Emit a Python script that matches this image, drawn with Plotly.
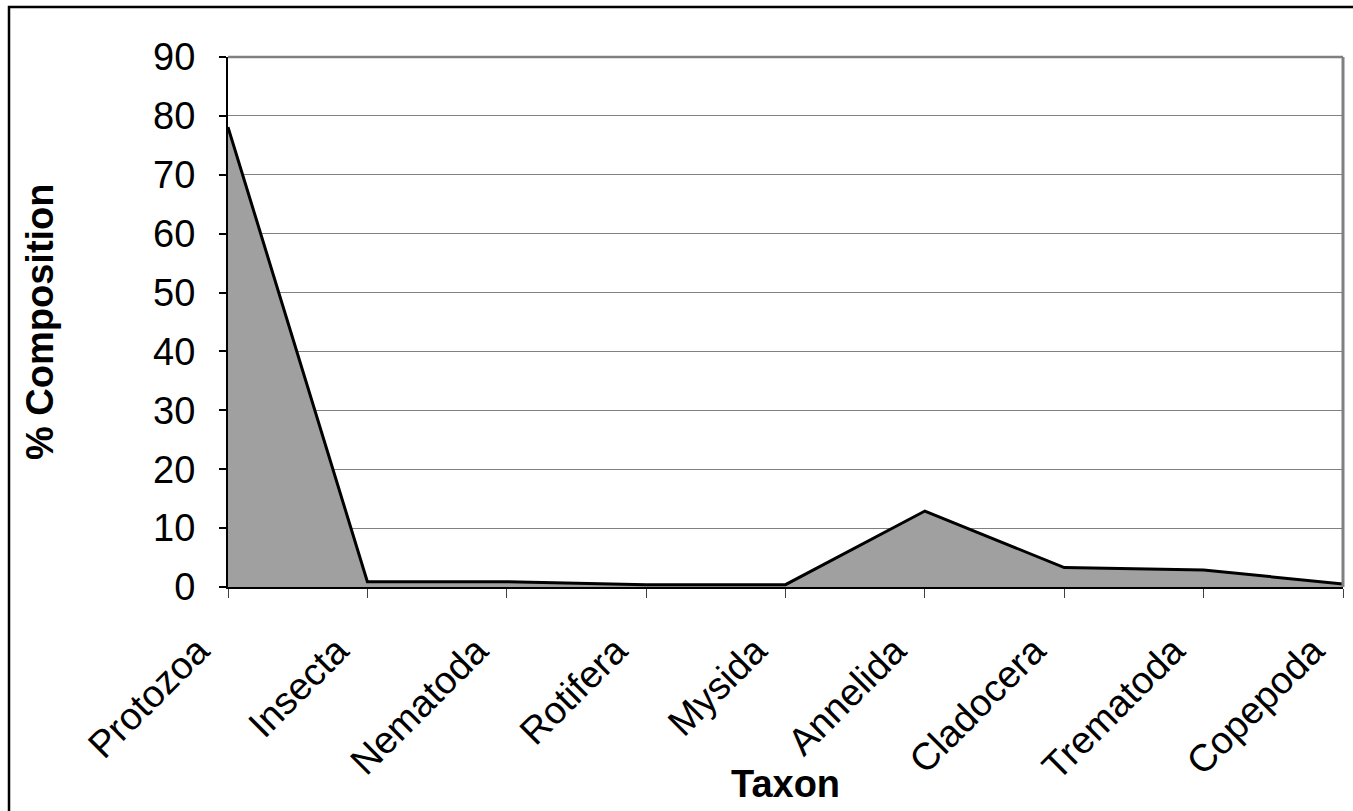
import plotly.graph_objects as go

categories = ["Protozoa", "Insecta", "Nematoda", "Rotifera", "Mysida",
              "Annelida", "Cladocera", "Trematoda", "Copepoda"]
composition = [78.1, 0.9, 0.9, 0.4, 0.4, 12.9, 3.3, 2.9, 0.5]
y_ticks = [0, 10, 20, 30, 40, 50, 60, 70, 80, 90]

W, H = 1353, 811
L, R, T, B = 228, 10, 57, 224
pw, ph = W - L - R, H - T - B

def px_x(p):
    return (p - L) / pw

def px_y(p):
    return (H - B - p) / ph

xs = list(range(len(categories)))

fig = go.Figure()
fig.add_trace(go.Scatter(
    x=xs, y=composition, mode="lines", fill="tozeroy",
    fillcolor="#a0a0a0", line=dict(color="black", width=3),
    hoverinfo="skip", showlegend=False,
))

font = "Liberation Sans, Arial, sans-serif"
FS = 38
fig.update_layout(
    width=W, height=H,
    margin=dict(l=L, r=R, t=T, b=B),
    paper_bgcolor="white", plot_bgcolor="white",
    font=dict(family=font, color="black", size=FS),
    xaxis=dict(
        range=[0, len(categories) - 1], tickmode="array", tickvals=xs,
        ticktext=categories, tickangle=-45, ticks="outside", ticklen=9,
        tickcolor="#404040", tickwidth=1, showgrid=False, zeroline=False,
        showline=True, linecolor="black", linewidth=2,
        tickfont=dict(size=FS, family=font),
        ticklabelshift=-30, ticklabelstandoff=15, ticklabeloverflow="allow",
    ),
    yaxis=dict(
        range=[0, 90], tickmode="array", tickvals=y_ticks, ticks="outside",
        ticklen=7, tickcolor="black", tickwidth=1.5, ticklabelstandoff=16,
        showgrid=True, gridcolor="#808080", gridwidth=1, zeroline=False,
        showline=True, linecolor="black", linewidth=2,
        tickfont=dict(size=FS, family=font),
    ),
    shapes=[
        dict(type="line", xref="paper", yref="paper", x0=0, x1=1, y0=1, y1=1,
             line=dict(color="#808080", width=2.5)),
        dict(type="line", xref="paper", yref="paper", x0=1, x1=1, y0=0, y1=1,
             line=dict(color="#808080", width=3)),
        dict(type="rect", xref="paper", yref="paper",
             x0=px_x(9), x1=px_x(W + 20), y0=px_y(H + 20), y1=px_y(7),
             line=dict(color="black", width=2.5), fillcolor="rgba(0,0,0,0)",
             layer="above"),
    ],
    annotations=[
        dict(text="<b>% Composition</b>", xref="paper", yref="paper",
             x=px_x(40), y=px_y(322), textangle=-90, showarrow=False,
             font=dict(size=FS, family=font), xanchor="center", yanchor="middle"),
        dict(text="<b>Taxon</b>", xref="paper", yref="paper",
             x=px_x(785), y=px_y(784), showarrow=False,
             font=dict(size=FS, family=font), xanchor="center", yanchor="middle"),
    ],
)

fig.write_html("out.html", config={"displayModeBar": False},
               post_script="document.body.style.margin='0';document.body.style.overflow='hidden';")
